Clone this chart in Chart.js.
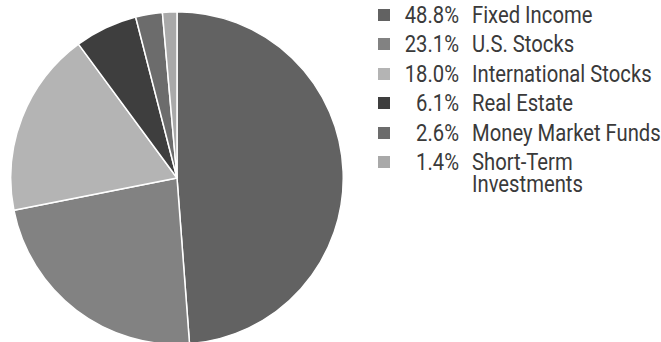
<!DOCTYPE html>
<html>
<head>
<meta charset="utf-8">
<script src="https://cdn.jsdelivr.net/npm/chart.js@4.4.1/dist/chart.umd.min.js"></script>
<style>
  html, body { margin: 0; padding: 0; background: #fff; overflow: hidden; }
  body { width: 661px; height: 342px; position: relative; font-family: Roboto, "Noto Sans", sans-serif; color: #3a3a3a; }
  #pieBox { position: absolute; left: 10px; top: 11px; width: 334px; height: 334px; }
  .row { position: absolute; left: 378px; height: 22px; }
  .sw { position: absolute; left: 0; top: 5px; width: 12px; height: 12px; }
  .pct { position: absolute; left: 0; top: 1px; width: 81px; text-align: right; font-size: 23px; line-height: 22px; white-space: nowrap; transform: scaleX(0.88); transform-origin: right center; }
  .lab { position: absolute; left: 94px; top: 1px; font-size: 23px; line-height: 22px; white-space: nowrap; transform: scaleX(0.88); transform-origin: left top; }
</style>
</head>
<body>
<div id="pieBox"><canvas id="pie" width="334" height="334"></canvas></div>
<div id="legend"></div>
<script>
// 자산 배분 데이터
const categories = ['Fixed Income', 'U.S. Stocks', 'International Stocks', 'Real Estate', 'Money Market Funds', 'Short-Term\nInvestments'];
const percents = [48.8, 23.1, 18.0, 6.1, 2.6, 1.4];
const colors = ['#626262', '#828282', '#b4b4b4', '#3e3e3e', '#6c6c6c', '#a9a9a9'];

// 범례 직접 그리기
const legend = document.getElementById('legend');
categories.forEach((name, i) => {
    const row = document.createElement('div');
    row.className = 'row';
    row.style.top = (4 + i * 29.4) + 'px';

    const sw = document.createElement('div');
    sw.className = 'sw';
    sw.style.background = colors[i];

    const pct = document.createElement('div');
    pct.className = 'pct';
    pct.textContent = percents[i].toFixed(1) + '%';

    const lab = document.createElement('div');
    lab.className = 'lab';
    lab.innerHTML = name.split('\n').join('<br>');

    row.appendChild(sw);
    row.appendChild(pct);
    row.appendChild(lab);
    legend.appendChild(row);
});

new Chart(document.getElementById('pie'), {
    type: 'pie',
    data: {
        labels: categories,
        datasets: [{
            data: percents,
            backgroundColor: colors,
            borderColor: '#ffffff',
            borderWidth: 1.5
        }]
    },
    options: {
        responsive: false,
        animation: false,
        layout: { padding: 0 },
        plugins: {
            legend: { display: false },
            tooltip: { enabled: false }
        }
    }
});
</script>
</body>
</html>
